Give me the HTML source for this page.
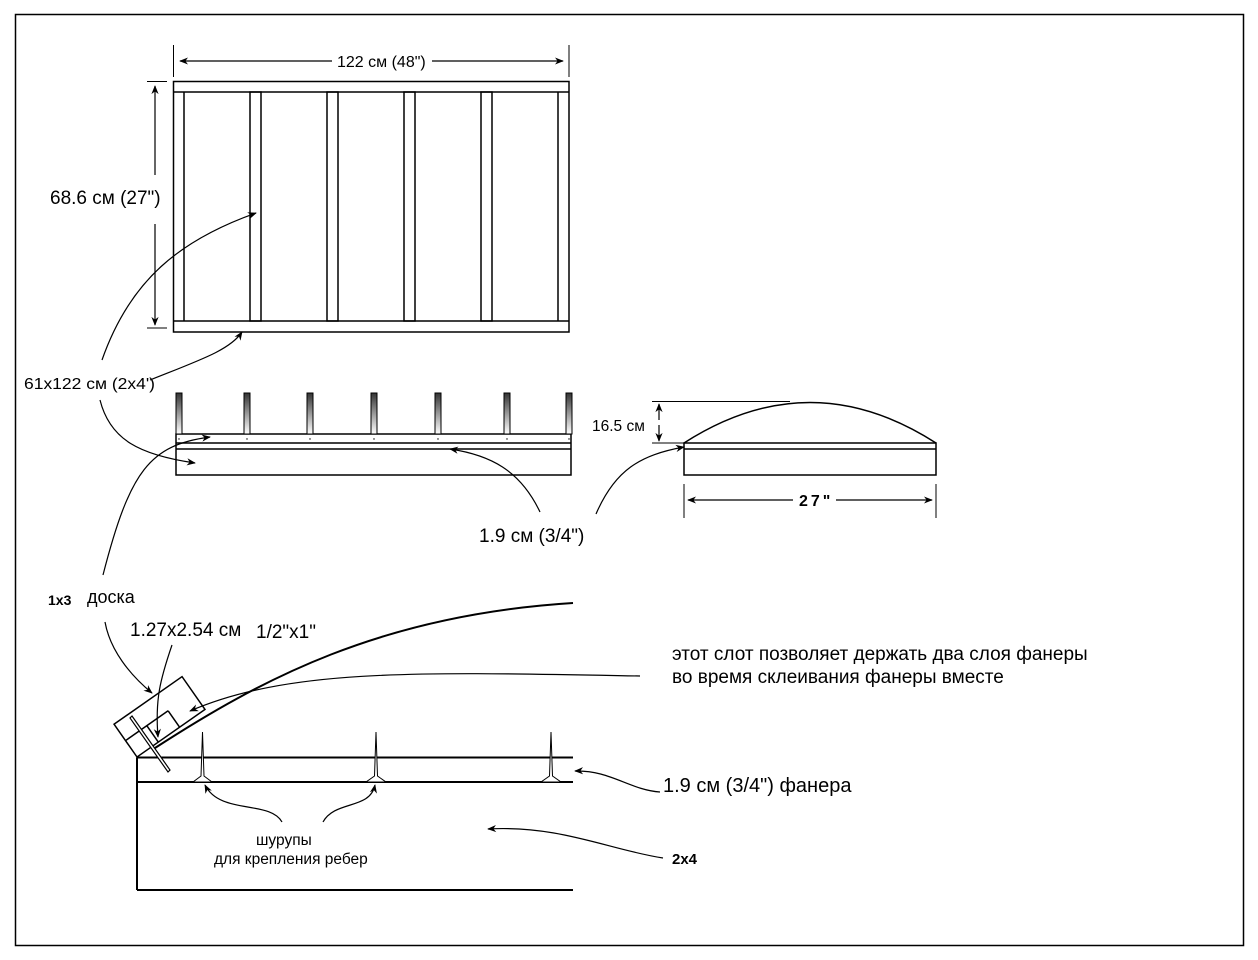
<!DOCTYPE html>
<html><head><meta charset="utf-8"><style>
html,body{margin:0;padding:0;background:#fff}
svg{display:block}
text{font-family:"Liberation Sans",sans-serif;fill:#000}
</style></head><body>
<svg width="1258" height="960" viewBox="0 0 1258 960" xmlns="http://www.w3.org/2000/svg">
<defs>
<marker id="a" viewBox="0 0 10 10" refX="9" refY="5" markerWidth="9" markerHeight="9" orient="auto-start-reverse" markerUnits="userSpaceOnUse"><path d="M0,1 L10,5 L0,9 L3,5 z" fill="#000"/></marker>
<linearGradient id="g" x1="0" y1="0" x2="0" y2="1"><stop offset="0" stop-color="#333"/><stop offset="1" stop-color="#fff"/></linearGradient>
</defs>
<rect x="15.5" y="14.5" width="1228" height="931" fill="none" stroke="#000" stroke-width="1.5"/>
<g fill="none" stroke="#000" stroke-width="1.5">
<rect x="173.5" y="81.5" width="395.5" height="250.5"/>
<line x1="173.5" y1="92" x2="569" y2="92"/>
<line x1="173.5" y1="321" x2="569" y2="321"/>
<line x1="184" y1="92" x2="184" y2="321"/>
<rect x="250" y="92" width="11" height="229"/>
<rect x="327" y="92" width="11" height="229"/>
<rect x="404" y="92" width="11" height="229"/>
<rect x="481" y="92" width="11" height="229"/>
<line x1="558" y1="92" x2="558" y2="321"/>
<line x1="173.5" y1="45" x2="173.5" y2="77" stroke-width="1"/>
<line x1="569" y1="45" x2="569" y2="77" stroke-width="1"/>
<line x1="180" y1="61" x2="332" y2="61" marker-start="url(#a)" stroke-width="1.2"/>
<line x1="432" y1="61" x2="563" y2="61" marker-end="url(#a)" stroke-width="1.2"/>
<line x1="147" y1="81.5" x2="167" y2="81.5" stroke-width="1"/>
<line x1="147" y1="328" x2="167" y2="328" stroke-width="1"/>
<line x1="155" y1="175" x2="155" y2="86" marker-end="url(#a)" stroke-width="1.2"/>
<line x1="155" y1="224" x2="155" y2="325" marker-end="url(#a)" stroke-width="1.2"/>
<rect x="176" y="434" width="395" height="41"/>
<line x1="176" y1="443" x2="571" y2="443"/>
<line x1="176" y1="449" x2="571" y2="449"/>
</g>
<g stroke="#000" stroke-width="1" fill="url(#g)">
<rect x="176" y="393" width="6" height="41"/>
<rect x="244" y="393" width="6" height="41"/>
<rect x="307" y="393" width="6" height="41"/>
<rect x="371" y="393" width="6" height="41"/>
<rect x="435" y="393" width="6" height="41"/>
<rect x="504" y="393" width="6" height="41"/>
<rect x="566" y="393" width="6" height="41"/>
</g>
<g fill="#000">
<circle cx="179" cy="439" r="0.7"/><circle cx="247" cy="439" r="0.7"/><circle cx="310" cy="439" r="0.7"/><circle cx="374" cy="439" r="0.7"/><circle cx="438" cy="439" r="0.7"/><circle cx="507" cy="439" r="0.7"/><circle cx="569" cy="439" r="0.7"/>
</g>
<g fill="none" stroke="#000" stroke-width="1.5">
<rect x="684" y="443" width="252" height="32"/>
<line x1="684" y1="449" x2="936" y2="449"/>
<path d="M684,443 Q810,362 936,443"/>
<line x1="652" y1="401.5" x2="790" y2="401.5" stroke-width="1"/>
<line x1="652" y1="443" x2="684" y2="443" stroke-width="1"/>
<line x1="659" y1="420" x2="659" y2="404" marker-end="url(#a)" stroke-width="1.2"/>
<line x1="659" y1="425" x2="659" y2="441" marker-end="url(#a)" stroke-width="1.2"/>
<line x1="684" y1="484" x2="684" y2="518" stroke-width="1"/>
<line x1="936" y1="484" x2="936" y2="518" stroke-width="1"/>
<line x1="688" y1="500" x2="793" y2="500" marker-start="url(#a)" stroke-width="1.2"/>
<line x1="836" y1="500" x2="932" y2="500" marker-end="url(#a)" stroke-width="1.2"/>
</g>
<g fill="none" stroke="#000" stroke-width="2">
<line x1="137" y1="757.5" x2="573" y2="757.5"/>
<line x1="137" y1="782" x2="573" y2="782"/>
<line x1="137" y1="890" x2="573" y2="890"/>
<line x1="137" y1="757.5" x2="137" y2="890"/>
</g>
<g fill="none" stroke="#000" stroke-width="1.5" transform="translate(137,757) rotate(-35)">
<rect x="0" y="-40" width="83" height="40" fill="#fff"/>
<line x1="0" y1="-20" x2="52" y2="-20"/>
<line x1="26" y1="-20" x2="26" y2="0"/>
<line x1="52" y1="-20" x2="52" y2="0"/>
</g>
<path d="M155,748 C260,680 380,615 573,603" fill="none" stroke="#000" stroke-width="2"/>
<path d="M132,716 L170,770 L168,772 L130,718 z" fill="#fff" stroke="#000" stroke-width="1.2"/>
<g fill="#fff" stroke="#000" stroke-width="1">
<path d="M202.5,732 L204,776 L212,782 L193,782 L201,776 z"/>
<path d="M376,732 L377.5,776 L386,782 L366,782 L374.5,776 z"/>
<path d="M551,732 L552.5,776 L561,782 L541,782 L549.5,776 z"/>
</g>
<g fill="none" stroke="#000" stroke-width="1.2">
<path d="M102,360 C130,280 180,240 256,213" marker-end="url(#a)"/>
<path d="M150,380 C200,360 230,350 242,332" marker-end="url(#a)"/>
<path d="M100,400 C110,440 140,455 195,463" marker-end="url(#a)"/>
<path d="M103,575 C130,470 150,445 210,437" marker-end="url(#a)"/>
<path d="M540,512 C520,470 490,455 450,449" marker-end="url(#a)"/>
<path d="M596,514 C615,470 640,455 684,447" marker-end="url(#a)"/>
<path d="M105,622 C110,650 130,675 152,693" marker-end="url(#a)"/>
<path d="M172,645 C160,680 155,700 158,737" marker-end="url(#a)"/>
<path d="M640,676 C420,672 290,668 190,711" marker-end="url(#a)"/>
<path d="M660,792 C630,790 610,770 575,771" marker-end="url(#a)"/>
<path d="M663,858 C610,850 560,825 488,829" marker-end="url(#a)"/>
<path d="M282,822 C270,800 220,815 205,785" marker-end="url(#a)"/>
<path d="M323,822 C335,800 370,810 375,785" marker-end="url(#a)"/>
</g>
<text x="337" y="67" font-size="16">122 см (48")</text>
<text x="50" y="204" font-size="19">68.6 см (27")</text>
<text x="24" y="389" font-size="16" textLength="131" lengthAdjust="spacingAndGlyphs">61x122 см (2x4')</text>
<text x="592" y="431" font-size="15.5">16.5 см</text>
<text x="799" y="506" font-size="16" font-weight="bold" letter-spacing="3">27"</text>
<text x="479" y="542" font-size="19">1.9 см (3/4")</text>
<text x="48" y="605" font-size="14" font-weight="bold">1x3</text>
<text x="87" y="603" font-size="18">доска</text>
<text x="130" y="636" font-size="19">1.27x2.54 см</text>
<text x="256" y="638" font-size="19">1/2"x1"</text>
<text x="672" y="660" font-size="19">этот слот позволяет держать два слоя фанеры</text>
<text x="672" y="683" font-size="19">во время склеивания фанеры вместе</text>
<text x="663" y="792" font-size="20">1.9 см (3/4") фанера</text>
<text x="672" y="864" font-size="15" font-weight="bold">2x4</text>
<text x="256" y="845" font-size="15.5">шурупы</text>
<text x="214" y="864" font-size="15.5">для крепления ребер</text>
</svg>
</body></html>
